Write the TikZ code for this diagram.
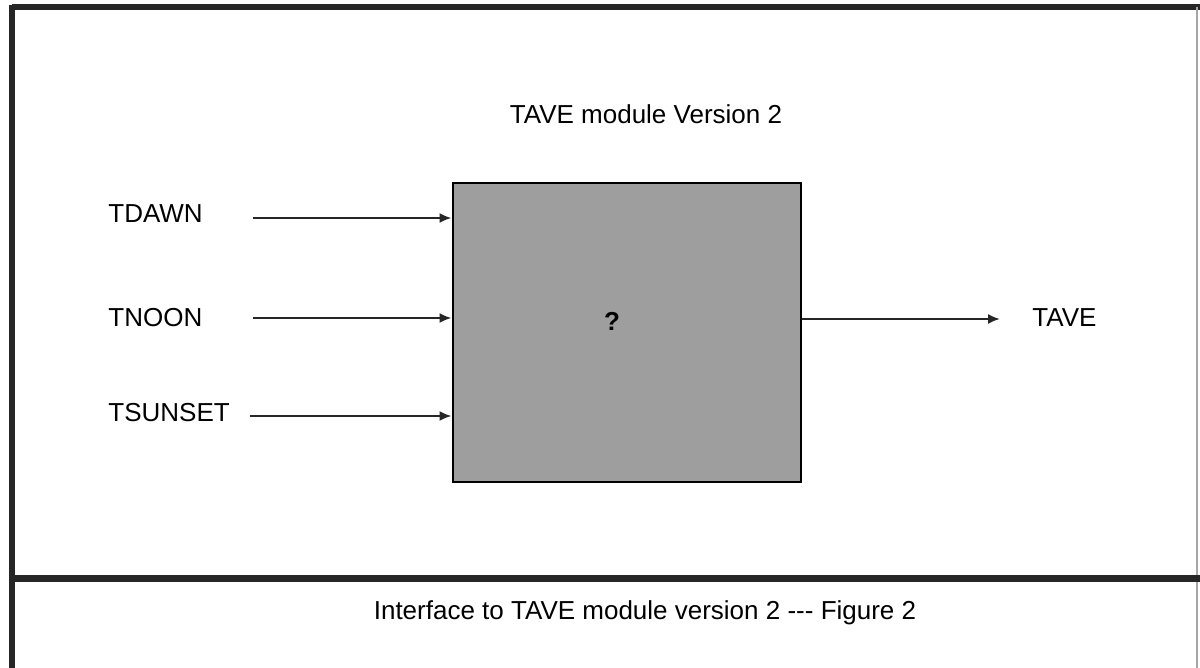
\documentclass[tikz,border=0pt]{standalone}
\usepackage{fontspec}
\setmainfont{Liberation Sans}[Ligatures=NoCommon]
\usetikzlibrary{arrows.meta}
\begin{document}
\begin{tikzpicture}[x=0.5pt,y=-0.5pt,
  lbl/.style={font=\fontsize{13}{15}\selectfont, inner sep=0pt, anchor=west},
  ctr/.style={font=\fontsize{13}{15}\selectfont, inner sep=0pt},
  conn/.style={line width=1pt, draw=black!85, -{Latex[length=6pt,width=5pt]}},
  frame/.style={line width=2.6pt, draw=black!85}]
\useasboundingbox (0,0) rectangle (1200,668);
\fill[white] (0,0) rectangle (1200,668);
% frame
\draw[frame] (12,7) -- (1200,7);
\draw[frame] (12,5) -- (12,668);
\draw[line width=0.7pt, draw=black!35] (1197,7) -- (1197,668);
\draw[line width=3.5pt, draw=black!85] (12,578) -- (1200,578);
% title
\node[ctr] (title) at (646,114) {TAVE module Version 2};
% module box
\node[draw=black, line width=1pt, fill=black!38, minimum width=174pt, minimum height=149pt, inner sep=0pt] (box) at (626.5,332.5) {};
\node[ctr] (q) at (612,321) {\textbf{?}};
% inputs
\node[lbl] (tdawn) at (108,214) {TDAWN};
\node[lbl] (tnoon) at (108,318) {TNOON};
\node[lbl] (tsunset) at (108,413) {TSUNSET};
\coordinate (a1s) at (253,218);
\coordinate (a2s) at (253,318);
\coordinate (a3s) at (250,416);
\draw[conn] (a1s) -- (box.west |- a1s);
\draw[conn] (a2s) -- (box.west |- a2s);
\draw[conn] (a3s) -- (box.west |- a3s);
% output
\node[lbl] (tave) at (1032,318) {TAVE};
\coordinate (oe) at (1000,319);
\draw[conn] (box.east |- oe) -- (oe);
% caption
\node[ctr] (cap) at (645,613) {Interface to TAVE module version 2 -{}-{}- Figure 2};
\end{tikzpicture}
\end{document}
